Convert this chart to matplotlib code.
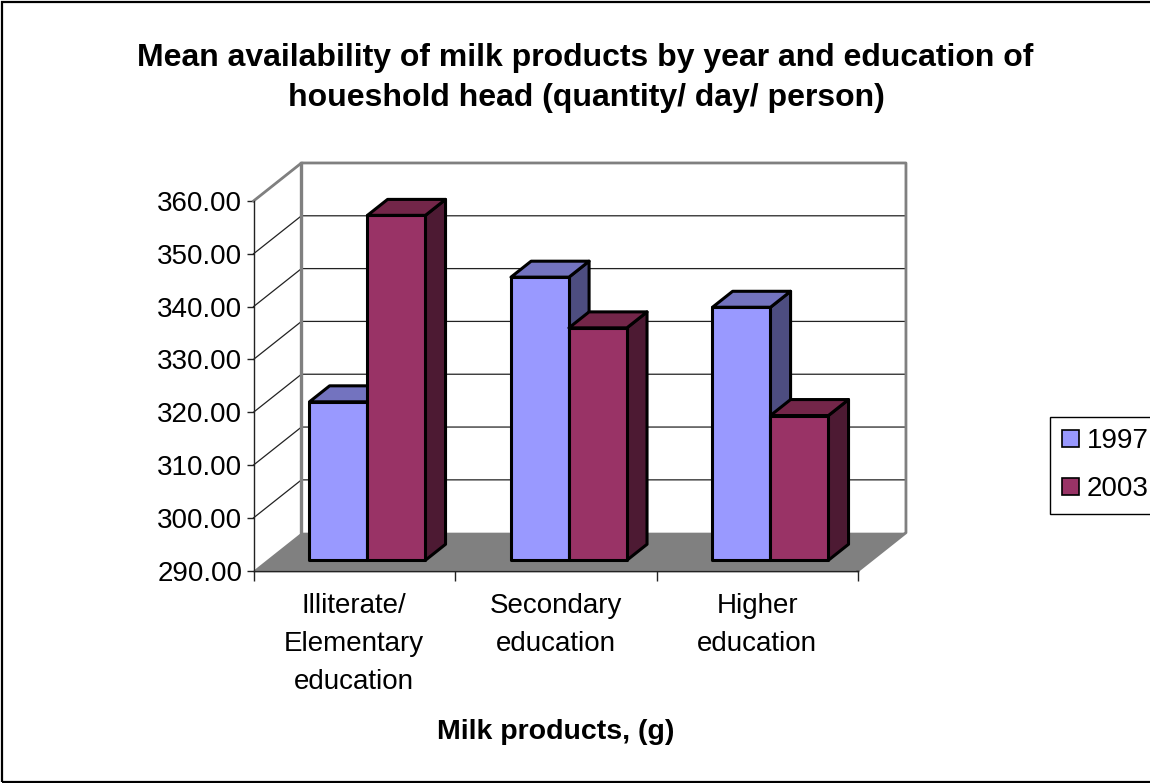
import matplotlib
matplotlib.use("Agg")
import matplotlib.pyplot as plt
from matplotlib.patches import Patch, Polygon, Rectangle

plt.rcParams['font.family'] = ['Liberation Sans', 'DejaVu Sans']

categories = ["Illiterate/\nElementary\neducation", "Secondary\neducation", "Higher\neducation"]
years = ["1997", "2003"]
values_1997 = [320.0, 343.6, 337.9]
values_2003 = [355.3, 334.0, 317.4]
y_ticks = [290, 300, 310, 320, 330, 340, 350, 360]

W, H = 1150, 783
ymin, ymax = 290, 360

# 3d look, sizes in axis units
wall_dx, wall_dy = 0.238, 7.2
bar_w = 0.2876
bar_off = 0.275   # bars sit this far back on the floor
bar_depth = 0.42
colors = {"1997": ("#9999FF", "#7373BF", "#4D4D80"),
          "2003": ("#993366", "#732649", "#4D1A33")}

fig = plt.figure(figsize=(W / 100, H / 100), dpi=100, facecolor="white")
fig.add_artist(Rectangle((1.5 / W, 1.5 / H), (W + 10) / W, (H - 3) / H, transform=fig.transFigure,
                         fill=False, ec="black", lw=1.6))

ax = fig.add_axes([253.5 / W, 1 - 570.7 / H, 604.5 / W, 369.7 / H])
ax.set_xlim(0, 3)
ax.set_ylim(ymin, ymax)
ax.patch.set_visible(False)
for s in ["top", "right"]:
    ax.spines[s].set_visible(False)
for s in ["left", "bottom"]:
    ax.spines[s].set_color("#222222")
    ax.spines[s].set_linewidth(1.0)


def poly(pts, **kw):
    ax.add_patch(Polygon(pts, clip_on=False, **kw))


# floor
poly([(0, ymin), (3, ymin), (3 + wall_dx, ymin + wall_dy), (wall_dx, ymin + wall_dy)],
     fc="#808080", ec="none", zorder=1)
# gridlines on back and side wall
for t in y_ticks[1:]:
    ax.plot([0, wall_dx, 3 + wall_dx], [t, t + wall_dy, t + wall_dy], color="#222222", lw=0.9,
            clip_on=False, zorder=1.5)
# wall frame
ax.plot([0, wall_dx, 3 + wall_dx, 3 + wall_dx, 3], [ymax, ymax + wall_dy, ymax + wall_dy, ymin + wall_dy, ymin],
        color="#808080", lw=2.0, clip_on=False, zorder=1.6)
ax.plot([wall_dx, wall_dx], [ymax + wall_dy, ymin + wall_dy], color="#808080", lw=2.4, clip_on=False, zorder=1.6)
ax.plot([0, 3], [ymin, ymin], color="#222222", lw=1.0, clip_on=False, zorder=1.7)


def bar3d(x, val, year):
    front, top, side = colors[year]
    x0 = x + bar_off * wall_dx
    x1 = x0 + bar_w
    y0 = ymin + bar_off * wall_dy
    y1 = val + bar_off * wall_dy
    ddx, ddy = bar_depth * wall_dx, bar_depth * wall_dy
    style = dict(ec="black", lw=2.2, joinstyle="round", zorder=3)
    poly([(x1, y0), (x1 + ddx, y0 + ddy), (x1 + ddx, y1 + ddy), (x1, y1)], fc=side, **style)
    poly([(x0, y1), (x1, y1), (x1 + ddx, y1 + ddy), (x0 + ddx, y1 + ddy)], fc=top, **style)
    poly([(x0, y0), (x1, y0), (x1, y1), (x0, y1)], fc=front, **style)


for i in range(3):
    c = i + 0.5 - bar_w
    bar3d(c, values_1997[i], "1997")
    bar3d(c + bar_w, values_2003[i], "2003")

ax.set_yticks(y_ticks)
ax.set_yticklabels(["%.2f" % t for t in y_ticks], fontsize=20, color="black")
ax.set_xticks([0, 1, 2, 3])
ax.set_xticklabels([])
ax.set_xticks([0.5, 1.5, 2.5], minor=True)
ax.set_xticklabels(categories, minor=True, fontsize=20, linespacing=1.6, color="black")
ax.tick_params(axis="y", length=5, width=1.0, pad=3, color="#222222")
ax.tick_params(axis="x", which="major", length=7, width=1.0, color="#222222")
ax.tick_params(axis="x", which="minor", length=0, pad=16)

fig.text(585 / W, 1 - 66 / H, "Mean availability of milk products by year and education of",
         ha="center", va="baseline", fontsize=23, fontweight="bold")
fig.text(586 / W, 1 - 106 / H, "houeshold head (quantity/ day/ person)",
         ha="center", va="baseline", fontsize=23, fontweight="bold")
fig.text(556 / W, 1 - 732 / H, "Milk products, (g)", ha="center", va="center", fontsize=20.5, fontweight="bold")

handles = [Patch(fc=colors[y][0], ec="black", lw=1.2, label=y) for y in years]
leg = fig.legend(handles=handles, loc="upper left", bbox_to_anchor=(1050 / W, 1 - 416.5 / H),
                 fontsize=20, frameon=True, fancybox=False, edgecolor="black", framealpha=1,
                 handlelength=0.6, handleheight=0.6, handletextpad=0.3, labelspacing=0.78,
                 borderpad=0.43, borderaxespad=0)
leg.get_frame().set_linewidth(1.0)

fig.savefig("out.png", dpi=100)
